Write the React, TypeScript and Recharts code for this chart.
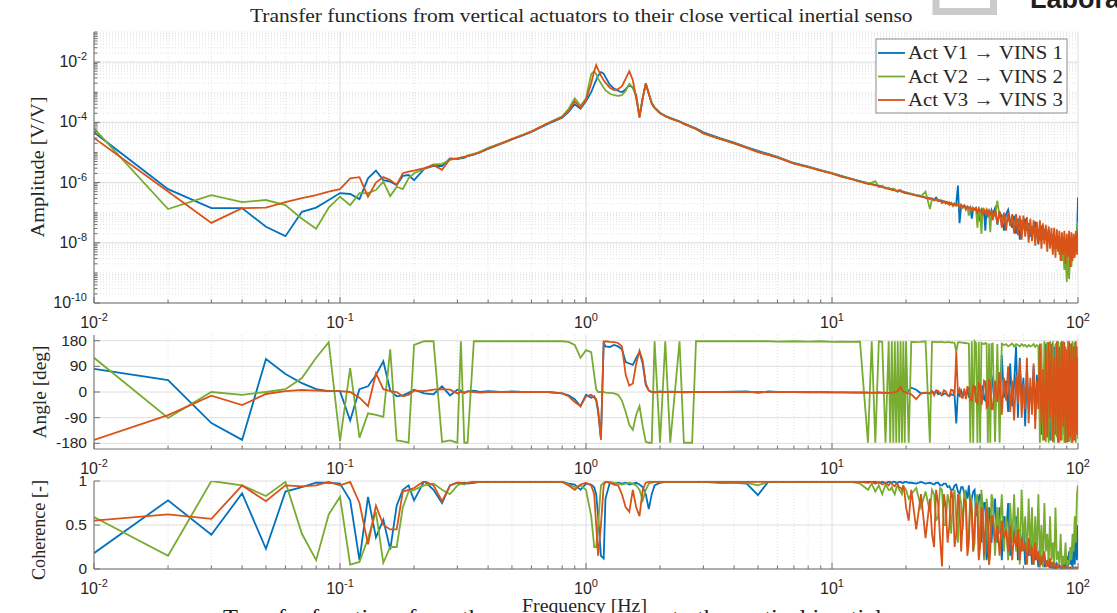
import React from "react";
import { LineChart, Line, XAxis, YAxis, CartesianGrid } from "recharts";

// frequency points [Hz]
const freq = [
  0.01, 0.02, 0.03, 0.04, 0.05, 0.06, 0.07, 0.08, 0.09, 0.1,
  0.11, 0.12, 0.13, 0.14, 0.15, 0.16, 0.17, 0.18, 0.19, 0.2,
  0.22, 0.24, 0.26, 0.28, 0.3, 0.31, 0.32, 0.33, 0.35, 0.37,
  0.4, 0.45, 0.5, 0.55, 0.6, 0.7, 0.8, 0.85, 0.9, 0.95,
  1, 1.05, 1.08, 1.1, 1.12, 1.15, 1.18, 1.2, 1.25, 1.3,
  1.35, 1.4, 1.45, 1.5, 1.55, 1.6, 1.65, 1.7, 1.75, 1.8,
  1.85, 1.9, 2, 2.1, 2.2, 2.4, 2.5, 2.7, 2.8, 3,
  3.5, 4, 4.5, 5, 5.5, 6, 7, 8, 9, 10,
  11, 12, 13, 14, 14.5, 15, 15.5, 16, 16.5, 17,
  17.25, 17.5, 17.75, 18, 18.25, 18.5, 18.75, 19, 19.25, 19.5,
  19.75, 20, 20.5, 21, 22, 23, 24,
  25, 25.5, 26, 26.5, 27, 27.5, 28, 28.5, 29, 29.5,
  30, 30.5, 31, 31.5, 32, 32.5, 33, 33.5, 34, 34.5,
  35, 35.5, 36, 36.5, 37, 37.5, 38, 38.5, 39, 39.5,
  40, 40.5, 41, 41.5, 42, 42.5, 43, 43.5, 44, 44.5,
  45, 46, 47, 48, 49, 50, 51, 52, 53, 54,
  55, 56, 57, 58, 59, 60, 61, 62, 63, 64,
  65, 66, 67, 68, 69, 70, 71, 72, 73, 74,
  75, 76, 77, 78, 79, 80, 81, 82, 83, 84,
  85, 86, 87, 88, 89, 90, 91, 92, 93, 94,
  95, 96, 97, 98, 99, 100,
];

// amplitude, as log10 of [V/V]
const ampV1Log = [
  -4.33, -6.22, -6.85, -6.85, -7.47, -7.78, -6.97, -6.83, -6.58, -6.35,
  -6.38, -6.55, -5.86, -5.6, -5.92, -5.97, -6.08, -5.78, -5.75, -5.92,
  -5.55, -5.45, -5.45, -5.2, -5.22, -5.2, -5.18, -5.12, -5.07, -5.0,
  -4.88, -4.72, -4.57, -4.44, -4.32, -4.05, -3.85, -3.65, -3.4, -3.55,
  -3.3, -3.0, -2.75, -2.6, -2.45, -2.33, -2.38, -2.5, -2.75, -2.88,
  -2.95, -3.0, -2.9, -2.76, -2.85, -3.1, -3.8, -3.2, -2.72, -3.05,
  -3.35, -3.5, -3.68, -3.78, -3.85, -3.97, -4.03, -4.15, -4.2, -4.33,
  -4.52, -4.67, -4.82, -4.95, -5.05, -5.15, -5.35, -5.47, -5.59, -5.69,
  -5.79, -5.88, -5.95, -6.02, -6.05, -6.08, -6.1, -6.14, -6.17, -6.2,
  -6.21, -6.22, -6.24, -6.25, -6.27, -6.3, -6.27, -6.28, -6.29, -6.3,
  -6.32, -6.33, -6.36, -6.38, -6.42, -6.44, -6.5,
  -6.52, -6.55, -6.56, -6.5, -6.58, -6.62, -6.6, -6.66, -6.63, -6.7,
  -6.66, -6.72, -6.7, -6.75, -6.7, -6.1, -7.35, -6.75, -6.8, -6.76,
  -6.85, -6.8, -6.88, -6.82, -7.2, -6.85, -6.9, -6.84, -7.0, -6.9,
  -7.3, -6.88, -7.0, -6.95, -7.6, -6.9, -7.05, -6.95, -7.1, -6.92,
  -7.05, -6.85, -7.4, -7.0, -7.1, -7.6, -7.05, -6.9, -7.3, -7.5,
  -7.1, -7.7, -7.2, -7.9, -7.3, -7.4, -7.2, -7.6, -7.35, -7.8,
  -7.45, -7.6, -7.3, -7.7, -8.05, -7.6, -7.5, -7.9, -7.6, -7.7,
  -7.8, -7.55, -8.1, -7.7, -7.9, -7.8, -8.2, -7.75, -8.0, -7.9,
  -8.1, -7.85, -8.3, -7.9, -8.0, -8.2, -7.9, -8.1, -7.95, -8.3,
  -7.9, -8.1, -7.85, -8.2, -7.9, -6.5,
];

const ampV2Log = [
  -4.2, -6.88, -6.42, -6.65, -6.58, -6.75, -7.2, -7.53, -6.83, -6.47,
  -6.75, -6.35, -6.35, -6.25, -5.97, -6.45, -6.14, -6.22, -5.86, -5.69,
  -5.55, -5.4, -5.38, -5.25, -5.2, -5.17, -5.15, -5.1, -5.05, -4.98,
  -4.85, -4.7, -4.55, -4.42, -4.3, -4.02, -3.8, -3.55, -3.2, -3.45,
  -3.2, -2.4, -2.3, -2.4, -2.55, -2.7, -2.85, -2.93, -3.05, -3.1,
  -3.12, -3.1, -2.95, -2.72, -2.85, -3.15, -3.8, -3.2, -2.7, -3.05,
  -3.37, -3.52, -3.7, -3.8, -3.87, -3.98, -4.05, -4.17, -4.22, -4.37,
  -4.55, -4.7, -4.84, -4.98, -5.07, -5.16, -5.36, -5.48, -5.6, -5.69,
  -5.8, -5.88, -5.97, -6.03, -6.0, -5.95, -6.15, -6.1, -6.2, -6.17,
  -6.22, -6.25, -6.2, -6.22, -6.28, -6.27, -6.25, -6.3, -6.32, -6.33,
  -6.34, -6.35, -6.36, -6.37, -6.42, -6.46, -6.3,
  -6.88, -6.55, -6.58, -6.55, -6.62, -6.6, -6.65, -6.62, -6.68, -6.66,
  -6.72, -6.68, -6.74, -6.7, -6.78, -6.74, -6.8, -6.76, -6.85, -6.8,
  -6.85, -6.82, -7.1, -6.85, -6.9, -6.86, -6.92, -6.88, -7.5, -6.9,
  -6.95, -7.7, -6.85, -6.95, -7.0, -6.9, -7.1, -6.98, -7.65, -7.0,
  -7.05, -7.1, -6.6, -7.15, -7.2, -7.1, -7.3, -7.2, -7.35, -7.25,
  -7.3, -7.4, -7.3, -7.5, -7.35, -7.5, -7.4, -7.55, -7.45, -7.6,
  -7.5, -7.65, -7.55, -7.7, -7.6, -7.75, -7.65, -7.8, -7.7, -7.85,
  -7.75, -7.9, -7.8, -8.0, -7.85, -8.1, -7.9, -8.2, -8.0, -8.4,
  -8.1, -8.6, -8.2, -8.9, -8.3, -9.3, -8.5, -9.2, -8.4, -8.8,
  -8.3, -8.5, -8.2, -8.0, -7.6, -7.3,
];

const ampV3Log = [
  -4.52, -6.3, -7.34, -6.85, -6.83, -6.65, -6.52, -6.42, -6.3, -6.22,
  -5.86, -5.82, -6.47, -6.0, -5.82, -5.92, -6.08, -5.69, -5.64, -5.6,
  -5.52, -5.42, -5.58, -5.22, -5.2, -5.17, -5.15, -5.12, -5.06, -5.0,
  -4.87, -4.71, -4.56, -4.43, -4.31, -4.03, -3.83, -3.62, -3.3, -3.52,
  -3.25, -2.7, -2.3, -2.1, -2.25, -2.45, -2.6, -2.68, -2.85, -2.93,
  -2.9, -2.8, -2.55, -2.3, -2.6, -3.2, -3.85, -3.2, -2.7, -3.05,
  -3.38, -3.52, -3.7, -3.8, -3.87, -3.98, -4.05, -4.17, -4.22, -4.37,
  -4.55, -4.7, -4.85, -4.99, -5.08, -5.17, -5.37, -5.49, -5.6, -5.7,
  -5.81, -5.89, -5.97, -6.04, -6.06, -6.09, -6.12, -6.15, -6.18, -6.21,
  -6.22, -6.23, -6.25, -6.26, -6.27, -6.28, -6.27, -6.25, -6.3, -6.32,
  -6.34, -6.35, -6.37, -6.39, -6.43, -6.47, -6.5,
  -6.55, -6.52, -6.6, -6.56, -6.62, -6.58, -6.68, -6.62, -6.7, -6.65,
  -6.74, -6.68, -6.78, -6.7, -6.75, -6.72, -6.85, -6.74, -6.82, -6.76,
  -6.9, -6.8, -6.85, -6.82, -6.95, -6.84, -6.9, -6.85, -7.0, -6.86,
  -6.95, -6.88, -7.1, -6.9, -7.0, -6.92, -7.15, -6.95, -7.05, -6.98,
  -7.25, -6.9, -7.35, -6.95, -7.5, -7.0, -7.6, -7.0, -7.45, -7.05,
  -7.7, -7.05, -7.75, -7.1, -7.9, -7.1, -7.8, -7.15, -8.0, -7.2,
  -7.95, -7.25, -8.1, -7.3, -8.0, -7.25, -8.2, -7.35, -8.05, -7.4,
  -8.3, -7.45, -8.2, -7.5, -8.4, -7.5, -8.5, -7.55, -8.3, -7.6,
  -8.6, -7.65, -8.4, -7.6, -8.7, -7.7, -8.5, -7.6, -8.8, -7.65,
  -8.6, -7.7, -8.5, -7.6, -8.4, -7.7,
];

// phase [deg]
const phaseV1 = [
  81, 42, -109, -168, 116, 63, 31, 10, 3, 3,
  -100, 10, 20, 60, 108, 5, -15, -12, -3, 8,
  -5, -8, 20, -12, 8, 5, -3, 2, 5, 0,
  3, 0, 2, 0, 0, 0, -5, -12, -25, -50,
  -10, -20, -15, -30, -70, -160, 172, 160, 158, 165,
  160, 150, 105, 100, 95, 120, 140, 100, 25, 5,
  0, -2, 2, 0, 1, 0, -1, 0, 0, 0,
  0, 1, 2, -3, 2, 0, 0, -1, 0, -1,
  -1, -2, -1, -2, -3, -2, -1, -3, -2, -4,
  -3, -3, -2, -2, -1, 0, 3, 5, 2, -2,
  -3, -3, 5, 15, 8, -5, -2,
  -6, 2, -4, 4, -8, -3, -12, -6, -5, -10,
  -15, -8, -10, -14, -110, 0, -12, 5, -15, 2,
  -15, 10, -20, 5, -20, 15, -10, 20, -30, 10,
  -80, 15, 20, -25, -30, 40, 25, -50, -40, 60,
  30, -60, 70, -40, 130, -20, 40, -70, 100, -50,
  30, 160, -90, 120, -30, 50, -120, 80, -60, 20,
  -40, 90, -100, 60, -20, 140, -150, 40, -80, 170,
  -60, 30, -170, 100, -40, 160, -120, 60, -175, 120,
  -90, 40, 175, -150, 70, -100, 150, -60, 120, -170,
  60, -120, 170, -40, 90, -140,
];

const phaseV2 = [
  120, -91, 0, -10, 0, 10, 49, 120, 175, -172,
  84, -160, -75, -80, -87, 150, -170, -173, -178, 165,
  178, 178, -175, -170, -178, 178, -178, -178, 178, 178,
  178, 178, 178, 178, 178, 178, 178, 176, 165, 120,
  147, 140, 60, 10, 0, 0, 0, -2, -3, -5,
  -10, -30, -70, -115, -133, -80, -50, -120, -175, -178,
  -178, 178, -178, 178, -178, 178, -178, -178, 178, 178,
  178, 178, 178, 178, 178, 177, 178, 177, 178, 176,
  177, 176, 177, -178, 178, -178, 178, 176, -178, 178,
  -178, 178, -178, 178, -178, 178, -178, 178, -178, 178,
  -178, 178, -178, 176, 175, 176, 178,
  -178, 176, 176, 175, 175, 176, 176, 174, 174, 175,
  175, 173, 174, 172, 140, 174, 175, 173, 173, 172,
  172, 171, 170, -178, 178, -178, 178, 172, -178, 176,
  -178, 172, 170, 168, 172, 170, -178, 170, -178, 168,
  170, -175, 168, -178, 170, 165, 168, 160, 165, 170,
  160, 168, 165, 160, 168, 162, 165, 158, 165, 160,
  162, 168, 158, 165, 160, -178, 170, -170, 178, -175,
  175, -178, 178, -170, 178, -178, 170, -160, 178, -178,
  175, -170, 178, -178, 160, -178, 178, -175, 170, -178,
  178, -170, 175, -178, 160, -165,
];

const phaseV3 = [
  -168, -81, -13, -46, -7, 3, 7, 5, 3, 3,
  0, -20, -50, 65, 10, 3, 0, -15, -10, 5,
  3, 8, 10, 8, -5, 0, -3, 2, 0, -2,
  0, 0, 0, 0, 0, 0, -5, -15, -35, -50,
  -15, -10, -20, -25, -60, -168, 175, 178, 176, 175,
  172, 160, 60, 22, 30, 100, 145, 110, 30, 5,
  0, 0, 0, 0, 0, 0, 0, 0, 0, 0,
  0, 0, 0, 0, 0, 0, 0, 0, 0, -1,
  -1, -1, -2, -2, -2, -3, -2, -2, -3, -3,
  -2, -2, -1, -1, 1, 3, 12, 18, 8, 2,
  0, -2, -5, -8, -25, -5, -3,
  -4, 3, -12, 5, 4, -8, -10, 6, 2, -12,
  -14, 8, 6, -15, 140, -5, 10, -18, -20, 12,
  -25, 18, 15, -28, -30, 22, 20, -35, -40, 30,
  25, -45, -20, 40, 35, -55, -50, 45, 30, -60,
  -60, 40, -35, 70, -80, 50, -30, 90, -70, 40,
  -100, 60, -40, 110, -90, 30, -60, 120, -110, 50,
  -80, 100, -130, 40, -60, 170, -120, 80, -170, 150,
  -160, 175, -90, 170, -175, 120, -150, 178, -178, 160,
  -170, 178, -120, 175, -178, 150, -175, 178, -160, 170,
  -178, 160, -170, 178, -150, 120,
];

// coherence [-]
const cohV1 = [
  0.18, 0.78, 0.39, 0.86, 0.23, 0.88, 0.93, 0.98, 0.98, 0.97,
  0.78, 0.1, 0.82, 0.36, 0.56, 0.22, 0.72, 0.9, 0.95, 0.78,
  1.0, 0.9, 0.75, 0.95, 0.98, 0.97, 0.98, 0.97, 0.98, 0.99,
  0.99, 0.99, 0.99, 0.99, 0.99, 0.99, 0.99, 0.97, 0.96, 0.9,
  0.97, 0.96, 0.93, 0.85, 0.6, 0.15, 0.12, 0.8, 0.98, 0.97,
  0.98, 0.97, 0.98, 0.96, 0.97, 0.98, 0.96, 0.93, 0.85, 0.68,
  0.85, 0.95, 0.98, 0.99, 0.99, 0.99, 0.99, 0.99, 0.99, 0.99,
  0.98, 0.98, 0.97, 0.84, 0.99, 0.99, 0.99, 0.99, 0.99, 0.99,
  0.99, 0.99, 0.99, 0.99, 0.99, 0.99, 0.98, 0.99, 0.98, 0.99,
  0.99, 0.98, 0.99, 0.99, 0.98, 0.98, 0.99, 0.99, 0.98, 0.98,
  0.99, 0.99, 0.98, 0.98, 0.97, 0.99, 0.97,
  0.98, 0.97, 0.96, 0.98, 0.98, 0.95, 0.95, 0.97, 0.97, 0.93,
  0.94, 0.9, 0.9, 0.95, 0.96, 0.88, 0.85, 0.93, 0.93, 0.85,
  0.88, 0.8, 0.95, 0.7, 0.8, 0.88, 0.9, 0.6, 0.7, 0.82,
  0.85, 0.3, 0.6, 0.75, 0.75, 0.1, 0.2, 0.7, 0.65, 0.3,
  0.5, 0.8, 0.3, 0.7, 0.1, 0.6, 0.4, 0.75, 0.15, 0.5,
  0.3, 0.6, 0.1, 0.45, 0.2, 0.5, 0.05, 0.35, 0.15, 0.4,
  0.05, 0.3, 0.1, 0.2, 0.02, 0.25, 0.05, 0.15, 0.02, 0.1,
  0.03, 0.12, 0.01, 0.08, 0.02, 0.05, 0.01, 0.06, 0.02, 0.04,
  0.01, 0.05, 0.02, 0.08, 0.01, 0.15, 0.03, 0.2, 0.05, 0.1,
  0.02, 0.3, 0.05, 0.45, 0.1, 0.5,
];

const cohV2 = [
  0.59, 0.15, 1.0, 0.95, 0.83, 0.99, 0.4, 0.1, 0.62, 0.82,
  0.05, 0.08, 0.35, 0.65, 0.07, 0.25, 0.25, 0.7, 0.88, 0.9,
  0.95, 0.97, 0.9, 0.85, 0.95, 0.97, 0.96, 0.98, 0.99, 0.99,
  0.99, 0.99, 0.99, 0.99, 0.99, 0.99, 0.99, 0.96, 0.93, 0.95,
  0.9, 0.6, 0.25, 0.25, 0.5, 0.95, 0.98, 0.99, 0.99, 0.98,
  0.97, 0.96, 0.97, 0.98, 0.97, 0.95, 0.9, 0.78, 0.9, 0.97,
  0.98, 0.99, 0.99, 0.99, 0.99, 0.99, 0.99, 0.99, 0.99, 0.99,
  0.99, 0.98, 0.98, 0.95, 0.99, 0.99, 0.99, 0.99, 0.99, 0.99,
  0.99, 0.99, 0.97, 0.9, 0.97, 0.88, 0.95, 0.85, 0.96, 0.9,
  0.9, 0.93, 0.88, 0.85, 0.92, 0.95, 0.9, 0.88, 0.85, 0.94,
  0.92, 0.9, 0.8, 0.85, 0.92, 0.7, 0.88,
  0.65, 0.9, 0.85, 0.55, 0.6, 0.92, 0.9, 0.5, 0.5, 0.85,
  0.75, 0.4, 0.8, 0.9, 0.55, 0.3, 0.85, 0.75, 0.45, 0.9,
  0.8, 0.25, 0.4, 0.85, 0.75, 0.2, 0.3, 0.8, 0.85, 0.15,
  0.5, 0.9, 0.7, 0.1, 0.2, 0.8, 0.65, 0.05, 0.35, 0.85,
  0.8, 0.15, 0.7, 0.4, 0.85, 0.2, 0.6, 0.1, 0.75, 0.3,
  0.85, 0.2, 0.7, 0.05, 0.9, 0.3, 0.6, 0.1, 0.8, 0.2,
  0.7, 0.05, 0.6, 0.15, 0.85, 0.1, 0.5, 0.02, 0.75, 0.2,
  0.4, 0.05, 0.6, 0.1, 0.3, 0.02, 0.7, 0.1, 0.2, 0.05,
  0.4, 0.02, 0.15, 0.05, 0.3, 0.01, 0.1, 0.05, 0.25, 0.1,
  0.4, 0.2, 0.6, 0.3, 0.85, 0.95,
];

const cohV3 = [
  0.55, 0.62, 0.57, 0.95, 0.77, 0.95, 0.94, 0.95, 0.99, 0.95,
  0.99, 0.75, 0.28, 0.72, 0.5, 0.45, 0.45, 0.88, 0.9, 0.92,
  1.0, 0.95, 0.77, 0.95, 0.98, 0.98, 0.97, 0.98, 0.99, 0.99,
  0.99, 0.99, 0.99, 0.99, 0.99, 0.99, 0.99, 0.95, 0.9, 0.96,
  0.98, 0.95, 0.85, 0.5, 0.15, 0.5, 0.95, 0.99, 0.98, 0.96,
  0.95, 0.85, 0.7, 0.65, 0.9, 0.7, 0.6, 0.9, 0.98, 0.99,
  0.99, 0.99, 0.99, 0.99, 0.99, 0.99, 0.99, 0.99, 0.99, 0.99,
  0.99, 0.99, 0.99, 0.99, 0.99, 0.99, 0.99, 0.99, 0.99, 0.99,
  0.99, 0.99, 0.99, 0.98, 0.99, 0.97, 0.99, 0.96, 0.98, 0.95,
  0.98, 0.97, 0.95, 0.94, 0.97, 0.96, 0.93, 0.92, 0.9, 0.95,
  0.85, 0.7, 0.55, 0.9, 0.45, 0.85, 0.35,
  0.8, 0.4, 0.25, 0.9, 0.75, 0.35, 0.03, 0.85, 0.7, 0.3,
  0.5, 0.9, 0.8, 0.25, 0.4, 0.85, 0.7, 0.2, 0.55, 0.8,
  0.75, 0.15, 0.3, 0.8, 0.65, 0.2, 0.5, 0.75, 0.7, 0.1,
  0.25, 0.7, 0.6, 0.15, 0.45, 0.7, 0.55, 0.05, 0.2, 0.6,
  0.6, 0.3, 0.5, 0.15, 0.55, 0.35, 0.45, 0.2, 0.5, 0.1,
  0.4, 0.25, 0.45, 0.1, 0.35, 0.2, 0.3, 0.05, 0.35, 0.15,
  0.25, 0.05, 0.3, 0.1, 0.2, 0.03, 0.15, 0.08, 0.2, 0.02,
  0.1, 0.02, 0.12, 0.01, 0.08, 0.02, 0.05, 0.01, 0.04, 0.02,
  0.02, 0.01, 0.03, 0.01, 0.02, 0.01, 0.02, 0.01, 0.02, 0.01,
  0.01, 0.02, 0.01, 0.02, 0.01, 0.02,
];

const seriesNames = ["Act V1 \u2192 VINS 1", "Act V2 \u2192 VINS 2", "Act V3 \u2192 VINS 3"];
const seriesColors = ["#0072BD", "#77AC30", "#D95319"];

// axis ticks
const xDecades = [0.01, 0.1, 1, 10, 100];
const subSteps = [2, 3, 4, 5, 6, 7, 8, 9];
const ampDecadeExps = [-10, -9, -8, -7, -6, -5, -4, -3, -2, -1];
const angleTicks = [-180, -90, 0, 90, 180];
const cohTicks = [0, 0.5, 1];

const xMinor = xDecades.slice(0, -1).flatMap((d) => subSteps.map((s) => +(d * s).toPrecision(3)));
const xAllTicks = [...xDecades, ...xMinor];
const ampDecades = ampDecadeExps.map((e) => Math.pow(10, e));
const ampMinor = ampDecadeExps.slice(0, -1).flatMap((e) => subSteps.map((s) => s * Math.pow(10, e)));
const ampAllTicks = [...ampDecades, ...ampMinor];
const ampMajorGrid = ampDecades.filter((_, i) => ampDecadeExps[i] % 2 === 0);
const ampMinorGrid = [...ampDecades.filter((_, i) => ampDecadeExps[i] % 2 !== 0), ...ampMinor];

const rows = freq.map((f, i) => ({
  f,
  a1: Math.pow(10, ampV1Log[i]),
  a2: Math.pow(10, ampV2Log[i]),
  a3: Math.pow(10, ampV3Log[i]),
  p1: phaseV1[i],
  p2: phaseV2[i],
  p3: phaseV3[i],
  c1: cohV1[i],
  c2: cohV2[i],
  c3: cohV3[i],
}));

const W = 1117;
const PLOT_LEFT = 94;
const PLOT_RIGHT_GAP = 39;
const axisColor = "#707070";
const textColor = "#262626";
const majorGrid = "#dedede";
const minorGrid = "#e2e2e2";
const sans = "'Liberation Sans', Arial, Helvetica, sans-serif";
const serif = "'Liberation Serif', 'Times New Roman', serif";

const logExp = (v: number) => Math.log10(v);
const isDecade = (v: number) => Math.abs(logExp(v) - Math.round(logExp(v))) < 1e-6;

const XBottomTick = (props: any) => {
  const { x, y, payload } = props;
  const major = isDecade(payload.value);
  return (
    <g>
      <line x1={x} y1={y} x2={x} y2={y - (major ? 6 : 3.5)} stroke={axisColor} />
      {major && (
        <text x={x} y={y + 25} textAnchor="middle" fill={textColor} fontFamily={sans} fontSize={16}>
          10<tspan dy={-7} fontSize={11}>{Math.round(logExp(payload.value))}</tspan>
        </text>
      )}
    </g>
  );
};

const XTopTick = (props: any) => {
  const { x, y, payload } = props;
  const major = isDecade(payload.value);
  return <line x1={x} y1={y} x2={x} y2={y + (major ? 6 : 3.5)} stroke={axisColor} />;
};

const AmpLeftTick = (props: any) => {
  const { x, y, payload } = props;
  const e = Math.round(logExp(payload.value));
  const labeled = isDecade(payload.value) && e % 2 === 0;
  return (
    <g>
      <line x1={x} y1={y} x2={x + (labeled ? 6 : 3.5)} y2={y} stroke={axisColor} />
      {labeled && (
        <text x={x - 7} y={y + 5} textAnchor="end" fill={textColor} fontFamily={sans} fontSize={16}>
          10<tspan dy={-7} fontSize={11}>{e}</tspan>
        </text>
      )}
    </g>
  );
};

const AmpRightTick = (props: any) => {
  const { x, y, payload } = props;
  const e = Math.round(logExp(payload.value));
  const labeled = isDecade(payload.value) && e % 2 === 0;
  return <line x1={x} y1={y} x2={x - (labeled ? 6 : 3.5)} y2={y} stroke={axisColor} />;
};

const LinLeftTick = (props: any) => {
  const { x, y, payload } = props;
  return (
    <g>
      <line x1={x} y1={y} x2={x + 6} y2={y} stroke={axisColor} />
      <text x={x - 7} y={y + 5} textAnchor="end" fill={textColor} fontFamily={sans} fontSize={15.5}>
        {payload.value}
      </text>
    </g>
  );
};

const LinRightTick = (props: any) => {
  const { x, y } = props;
  return <line x1={x} y1={y} x2={x - 6} y2={y} stroke={axisColor} />;
};

const xAxes = (bottomHeight: number) => [
  <XAxis
    key="xb"
    xAxisId="b"
    dataKey="f"
    type="number"
    scale="log"
    domain={[0.01, 100]}
    allowDataOverflow
    ticks={xAllTicks}
    interval={0}
    tickSize={0}
    tickMargin={0}
    tickLine={false}
    axisLine={{ stroke: axisColor }}
    tick={(p: any) => <XBottomTick {...p} />}
    height={bottomHeight}
  />,
  <XAxis
    key="xt"
    xAxisId="t"
    orientation="top"
    dataKey="f"
    type="number"
    scale="log"
    domain={[0.01, 100]}
    allowDataOverflow
    ticks={xAllTicks}
    interval={0}
    tickSize={0}
    tickMargin={0}
    tickLine={false}
    axisLine={{ stroke: axisColor }}
    tick={(p: any) => <XTopTick {...p} />}
    height={0}
  />,
];

const seriesLines = (keys: string[]) =>
  keys.map((k, i) => (
    <Line
      key={k}
      xAxisId="b"
      yAxisId="l"
      type="linear"
      dataKey={k}
      stroke={seriesColors[i]}
      strokeWidth={1.8}
      dot={false}
      isAnimationActive={false}
    />
  ));

export default function App() {
  return (
    <div style={{ position: "absolute", left: 0, top: 0, width: W, height: 613, background: "#fff", overflow: "hidden" }}>
      {/* amplitude */}
      <div style={{ position: "absolute", left: 0, top: 0 }}>
        <LineChart width={W} height={330} data={rows} margin={{ top: 32, right: PLOT_RIGHT_GAP, bottom: 0, left: 0 }}>
          <CartesianGrid xAxisId="b" yAxisId="l" stroke={minorGrid} strokeDasharray="1 2" horizontalValues={ampMinorGrid} verticalValues={xMinor} />
          <CartesianGrid xAxisId="b" yAxisId="l" stroke={majorGrid} horizontalValues={ampMajorGrid} verticalValues={xDecades} />
          {xAxes(27)}
          <YAxis yAxisId="l" type="number" scale="log" domain={[1e-10, 1e-1]} allowDataOverflow ticks={ampAllTicks} interval={0}
            tickSize={0} tickMargin={0} tickLine={false} axisLine={{ stroke: axisColor }} width={PLOT_LEFT}
            tick={(p: any) => <AmpLeftTick {...p} />} />
          <YAxis yAxisId="r" orientation="right" type="number" scale="log" domain={[1e-10, 1e-1]} allowDataOverflow ticks={ampAllTicks} interval={0}
            tickSize={0} tickMargin={0} tickLine={false} axisLine={{ stroke: axisColor }} width={0}
            tick={(p: any) => <AmpRightTick {...p} />} />
          {seriesLines(["a1", "a2", "a3"])}
        </LineChart>
      </div>

      {/* phase */}
      <div style={{ position: "absolute", left: 0, top: 320 }}>
        <LineChart width={W} height={160} data={rows} margin={{ top: 15, right: PLOT_RIGHT_GAP, bottom: 0, left: 0 }}>
          <CartesianGrid xAxisId="b" yAxisId="l" stroke={minorGrid} strokeDasharray="1 2" horizontal={false} verticalValues={xMinor} />
          <CartesianGrid xAxisId="b" yAxisId="l" stroke={majorGrid} horizontalValues={angleTicks} verticalValues={xDecades} />
          {xAxes(31)}
          <YAxis yAxisId="l" type="number" domain={[-200, 200]} allowDataOverflow ticks={angleTicks} interval={0}
            tickSize={0} tickMargin={0} tickLine={false} axisLine={{ stroke: axisColor }} width={PLOT_LEFT}
            tick={(p: any) => <LinLeftTick {...p} />} />
          <YAxis yAxisId="r" orientation="right" type="number" domain={[-200, 200]} allowDataOverflow ticks={angleTicks} interval={0}
            tickSize={0} tickMargin={0} tickLine={false} axisLine={{ stroke: axisColor }} width={0}
            tick={(p: any) => <LinRightTick {...p} />} />
          {seriesLines(["p1", "p2", "p3"])}
        </LineChart>
      </div>

      {/* coherence */}
      <div style={{ position: "absolute", left: 0, top: 470 }}>
        <LineChart width={W} height={143} data={rows} margin={{ top: 11, right: PLOT_RIGHT_GAP, bottom: 0, left: 0 }}>
          <CartesianGrid xAxisId="b" yAxisId="l" stroke={minorGrid} strokeDasharray="1 2" horizontal={false} verticalValues={xMinor} />
          <CartesianGrid xAxisId="b" yAxisId="l" stroke={majorGrid} horizontalValues={cohTicks} verticalValues={xDecades} />
          {xAxes(44)}
          <YAxis yAxisId="l" type="number" domain={[0, 1]} allowDataOverflow ticks={cohTicks} interval={0}
            tickSize={0} tickMargin={0} tickLine={false} axisLine={{ stroke: axisColor }} width={PLOT_LEFT}
            tick={(p: any) => <LinLeftTick {...p} />} />
          <YAxis yAxisId="r" orientation="right" type="number" domain={[0, 1]} allowDataOverflow ticks={cohTicks} interval={0}
            tickSize={0} tickMargin={0} tickLine={false} axisLine={{ stroke: axisColor }} width={0}
            tick={(p: any) => <LinRightTick {...p} />} />
          {seriesLines(["c1", "c2", "c3"])}
        </LineChart>
      </div>

      {/* titles, labels, legend */}
      <svg width={W} height={613} style={{ position: "absolute", left: 0, top: 0, pointerEvents: "none" }}>
        <text x={250} y={22} fill={textColor} fontFamily={serif} fontSize={19} textLength={678} lengthAdjust="spacingAndGlyphs">
          Transfer functions from vertical actuators to their close vertical inertial sensors
        </text>
        <rect x={913} y={0} width={90} height={24} fill="#fff" />
        <path d="M 936 0 L 936 11.5 L 993.5 11.5 L 993.5 0" fill="none" stroke="#cbcbcb" strokeWidth={7} />
        <text x={1030} y={8} fill="#1e1e1e" fontFamily={sans} fontWeight="bold" fontSize={27}>Laboratory</text>

        <text transform="translate(44,167) rotate(-90)" textAnchor="middle" fill={textColor} fontFamily={serif} fontSize={18} textLength={141} lengthAdjust="spacingAndGlyphs">
          Amplitude [V/V]
        </text>
        <text transform="translate(46,392) rotate(-90)" textAnchor="middle" fill={textColor} fontFamily={serif} fontSize={18} textLength={93} lengthAdjust="spacingAndGlyphs">
          Angle [deg]
        </text>
        <text transform="translate(45,530) rotate(-90)" textAnchor="middle" fill={textColor} fontFamily={serif} fontSize={18} textLength={100} lengthAdjust="spacingAndGlyphs">
          Coherence [-]
        </text>

        <text x={223} y={624} fill="#1a1a1a" fontFamily={serif} fontSize={20} textLength={737} lengthAdjust="spacingAndGlyphs">
          Transfer functions from the vertical actuators to the vertical inertial sensors
        </text>
        <rect x={515} y={594} width={140} height={19} fill="#fff" />
        <text x={522} y={612} fill={textColor} fontFamily={serif} fontSize={18} textLength={125} lengthAdjust="spacingAndGlyphs">
          Frequency [Hz]
        </text>

        <rect x={876} y={39} width={191} height={74} fill="#fff" stroke="#8c8c8c" strokeWidth={1} />
        {seriesNames.map((name, i) => (
          <g key={name}>
            <line x1={878} x2={905} y1={53 + i * 23.5} y2={53 + i * 23.5} stroke={seriesColors[i]} strokeWidth={1.8} />
            <text x={908} y={59 + i * 23.5} fill={textColor} fontFamily={serif} fontSize={19} textLength={155} lengthAdjust="spacingAndGlyphs">
              {name}
            </text>
          </g>
        ))}
      </svg>
    </div>
  );
}
